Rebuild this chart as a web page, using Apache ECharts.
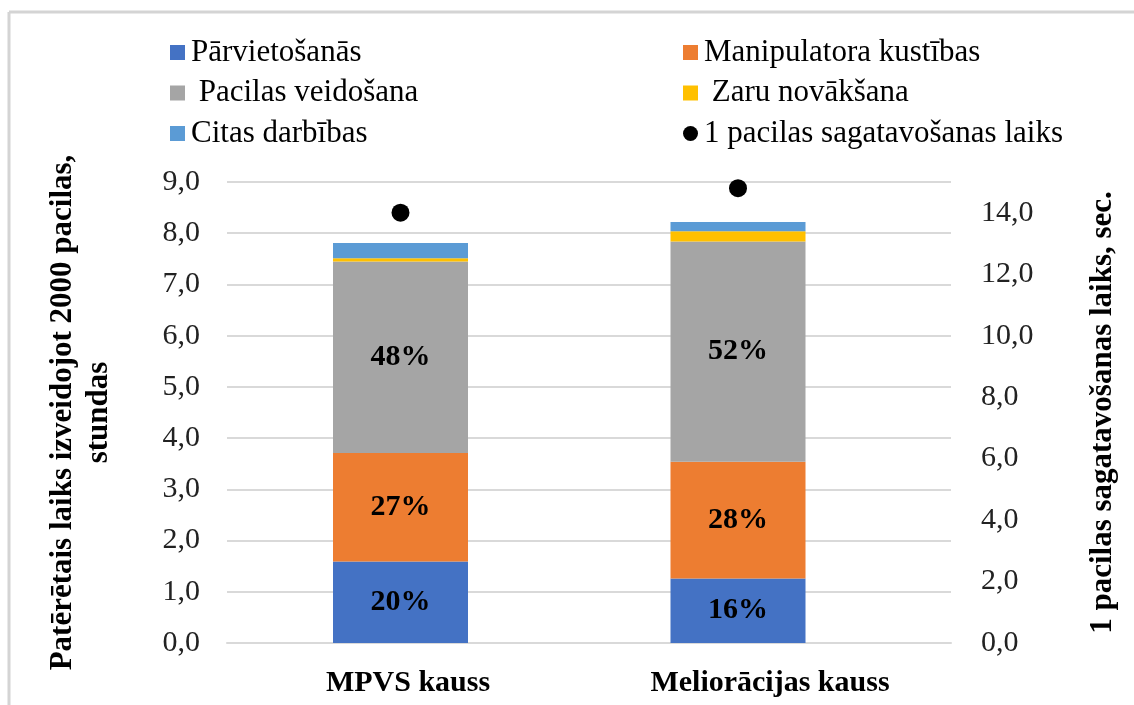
<!DOCTYPE html>
<html>
<head>
<meta charset="utf-8">
<script src="https://cdn.jsdelivr.net/npm/echarts@6/dist/echarts.min.js"></script>
<style>
html,body{margin:0;padding:0;background:#fff;}
#chart{width:1134px;height:705px;}
</style>
</head>
<body>
<div id="chart"></div>
<script>
// ---- data ----
const categories = ['MPVS kauss', 'Meliorācijas kauss'];
const seriesNames = ['Pārvietošanās', 'Manipulatora kustības', ' Pacilas veidošana', ' Zaru novākšana', 'Citas darbības', '1 pacilas sagatavošanas laiks'];
const parvietosanas = [1.59, 1.26];
const manipulatoraKustibas = [2.12, 2.28];
const pacilasVeidosana = [3.74, 4.30];
const zaruNovaksana = [0.06, 0.20];
const citasDarbibas = [0.30, 0.18];
const pacilasLaiks = [14.0, 14.8];
const labelsParvietosanas = ['20%', '16%'];
const labelsManipulatora = ['27%', '28%'];
const labelsPacilas = ['48%', '52%'];
const leftAxisTitle = 'Patērētais laiks izveidojot 2000 pacilas,\nstundas';
const rightAxisTitle = '1 pacilas sagatavošanas laiks, sec.';

const FONT = "'Liberation Serif', 'Times New Roman', serif";
const colors = ['#4472C4', '#ED7D31', '#A5A5A5', '#FFC000', '#5B9BD5', '#000000'];
const fmt = v => v.toFixed(1).replace('.', ',');

const chart = echarts.init(document.getElementById('chart'), null, {renderer: 'canvas'});

function barSeries(i, data, labels) {
  const s = {
    name: seriesNames[i], type: 'bar', stack: 'total', xAxisIndex: 0, yAxisIndex: 2,
    data: data, barWidth: 135, itemStyle: {color: colors[i]},
    emphasis: {disabled: true}
  };
  if (labels) {
    s.label = {
      show: true, position: 'inside', formatter: p => labels[p.dataIndex],
      fontFamily: FONT, fontWeight: 'bold', fontSize: 30, color: '#000'
    };
  }
  return s;
}

const legendText = {fontFamily: FONT, fontSize: 31, lineHeight: 30, color: '#000', padding: [0, 0, 0, 1]};

const option = {
  animation: false,
  backgroundColor: '#ffffff',
  grid: [
    {left: 231.75, width: 675, top: 182, height: 461},
    {left: 227, width: 724, top: 182, height: 461}
  ],
  legend: [
    {
      orient: 'vertical', left: 165, top: 32, itemWidth: 15, itemHeight: 15, itemGap: 9.5,
      data: [seriesNames[0], seriesNames[2], seriesNames[4]],
      textStyle: legendText,
      icon: 'rect'
    },
    {
      orient: 'vertical', left: 678, top: 32, itemWidth: 15, itemHeight: 15, itemGap: 9.5,
      data: [
        {name: seriesNames[1], icon: 'rect'},
        {name: seriesNames[3], icon: 'rect'},
        {name: seriesNames[5], icon: 'circle'}
      ],
      textStyle: legendText
    }
  ],
  xAxis: [
    {type: 'category', gridIndex: 0, data: categories, show: false},
    {
      type: 'category', gridIndex: 1, data: categories,
      axisLine: {show: true, lineStyle: {color: '#d9d9d9', width: 2}},
      axisTick: {show: false},
      axisLabel: {fontFamily: FONT, fontWeight: 'bold', fontSize: 30, color: '#000', margin: 25}
    }
  ],
  yAxis: [
    {
      type: 'value', gridIndex: 1, min: 0, max: 9, interval: 1, position: 'left',
      axisLine: {show: false}, axisTick: {show: false},
      splitLine: {show: true, lineStyle: {color: '#d9d9d9', width: 2}},
      axisLabel: {fontFamily: FONT, fontSize: 30, color: '#222', margin: 27, formatter: fmt},
      name: leftAxisTitle, nameLocation: 'middle', nameRotate: 90, nameGap: 110,
      nameTextStyle: {fontFamily: FONT, fontWeight: 'bold', fontSize: 31, lineHeight: 36, color: '#000', align: 'center'}
    },
    {
      type: 'value', gridIndex: 1, min: 0, max: 15, interval: 2, position: 'right',
      axisLine: {show: false}, axisTick: {show: false}, splitLine: {show: false},
      axisLabel: {fontFamily: FONT, fontSize: 30, color: '#222', margin: 30, showMaxLabel: false,
        formatter: v => (v > 14.5 ? '' : fmt(v))},
      name: rightAxisTitle, nameLocation: 'middle', nameRotate: 90, nameGap: 136,
      nameTextStyle: {fontFamily: FONT, fontWeight: 'bold', fontSize: 31, color: '#000'}
    },
    {type: 'value', gridIndex: 0, min: 0, max: 9, show: false, splitLine: {show: false}},
    {type: 'value', gridIndex: 0, min: 0, max: 15, show: false, splitLine: {show: false}}
  ],
  series: [
    barSeries(0, parvietosanas, labelsParvietosanas),
    barSeries(1, manipulatoraKustibas, labelsManipulatora),
    barSeries(2, pacilasVeidosana, labelsPacilas),
    barSeries(3, zaruNovaksana, null),
    barSeries(4, citasDarbibas, null),
    {
      name: seriesNames[5], type: 'scatter', xAxisIndex: 0, yAxisIndex: 3,
      data: pacilasLaiks, symbol: 'circle', symbolSize: 18,
      itemStyle: {color: colors[5], opacity: 1}, emphasis: {disabled: true}
    }
  ],
  graphic: [
    {type: 'line', shape: {x1: 9, y1: 12, x2: 1134, y2: 12}, style: {stroke: '#d4d4d4', lineWidth: 3}, silent: true},
    {type: 'line', shape: {x1: 9, y1: 12, x2: 9, y2: 705}, style: {stroke: '#d4d4d4', lineWidth: 3}, silent: true}
  ]
};
chart.setOption(option);
</script>
</body>
</html>
